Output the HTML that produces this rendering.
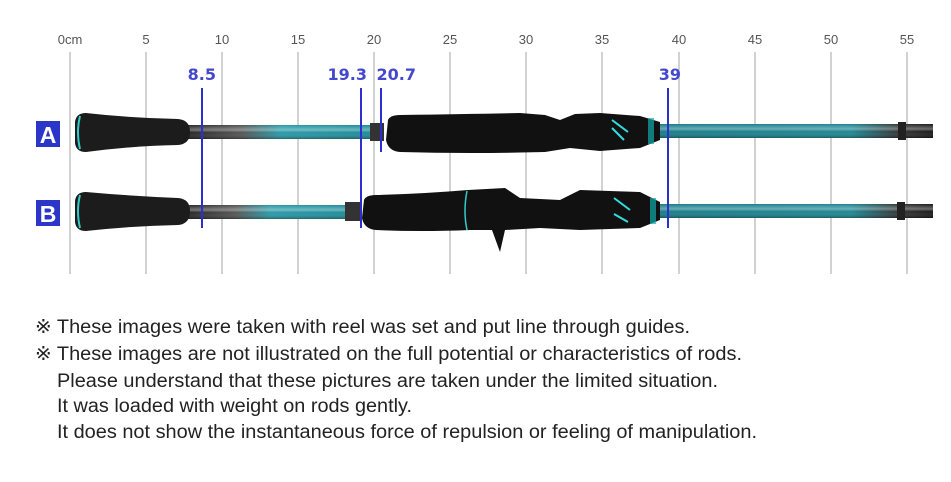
<!DOCTYPE html>
<html><head><meta charset="utf-8"><style>
html,body{margin:0;padding:0;background:#fff;}
svg{display:block}
</style></head><body>
<svg width="951" height="482" viewBox="0 0 951 482" xmlns="http://www.w3.org/2000/svg">
<defs>
<linearGradient id="blA" x1="0" x2="1" y1="0" y2="0">
<stop offset="0" stop-color="#222"/><stop offset="0.3" stop-color="#555"/><stop offset="0.5" stop-color="#2a9aa8"/><stop offset="1" stop-color="#1d8a98"/></linearGradient>
<linearGradient id="blT" x1="0" x2="1" y1="0" y2="0">
<stop offset="0" stop-color="#1a7d8a"/><stop offset="0.7" stop-color="#1f8794"/><stop offset="0.88" stop-color="#333"/><stop offset="1" stop-color="#1a1a1a"/></linearGradient>
<linearGradient id="sh" x1="0" x2="0" y1="0" y2="1">
<stop offset="0" stop-color="#fff" stop-opacity="0"/><stop offset="0.35" stop-color="#fff" stop-opacity="0.35"/><stop offset="0.55" stop-color="#fff" stop-opacity="0"/><stop offset="1" stop-color="#000" stop-opacity="0.3"/></linearGradient>
</defs>
<g font-family="Liberation Sans, sans-serif" font-size="13" fill="#555" text-anchor="middle">
<text x="70" y="44">0cm</text><text x="146" y="44">5</text><text x="222" y="44">10</text><text x="298" y="44">15</text><text x="374" y="44">20</text><text x="450" y="44">25</text><text x="526" y="44">30</text><text x="602" y="44">35</text><text x="679" y="44">40</text><text x="755" y="44">45</text><text x="831" y="44">50</text><text x="907" y="44">55</text>
</g>
<g stroke="#b5b5b5" stroke-width="1.2">
<line x1="70" y1="52" x2="70" y2="274"/><line x1="146" y1="52" x2="146" y2="274"/><line x1="222" y1="52" x2="222" y2="274"/><line x1="298" y1="52" x2="298" y2="274"/><line x1="374" y1="52" x2="374" y2="274"/><line x1="450" y1="52" x2="450" y2="274"/><line x1="526" y1="52" x2="526" y2="274"/><line x1="602" y1="52" x2="602" y2="274"/><line x1="679" y1="52" x2="679" y2="274"/><line x1="755" y1="52" x2="755" y2="274"/><line x1="831" y1="52" x2="831" y2="274"/><line x1="907" y1="52" x2="907" y2="274"/>
</g>
<g>
<rect x="183" y="125" width="195" height="14" fill="url(#blA)"/>
<rect x="183" y="125" width="195" height="14" fill="url(#sh)"/>
<rect x="370" y="123" width="14" height="18" fill="#333"/>
<rect x="660" y="124" width="273" height="14" fill="url(#blT)"/>
<rect x="660" y="124" width="273" height="14" fill="url(#sh)"/>
<rect x="898" y="122" width="8" height="18" fill="#222"/>
<path d="M75 122 Q76 113 86 113 Q130 118 178 119 Q190 120 190 132 Q190 144 178 145 Q130 146 86 152 Q76 152 75 143 Z" fill="#1c1c1c"/>
<path d="M80 116 Q76 132 80 149" stroke="#3cc" stroke-width="2" fill="none"/>
<path d="M388 120 Q390 115 400 115 Q470 114 520 113 L545 115 L560 120 L575 114 L600 113 L640 116 L660 122 L660 140 L640 148 L600 151 L570 148 L545 152 Q470 154 400 152 Q388 151 386 140 Z" fill="#111"/>
<path d="M612 120 L628 132 M612 128 L624 140" stroke="#3dd" stroke-width="2"/>
<rect x="648" y="118" width="6" height="26" fill="#1aa" opacity="0.7"/>
</g>
<g>
<rect x="183" y="205" width="175" height="14" fill="url(#blA)"/>
<rect x="183" y="205" width="175" height="14" fill="url(#sh)"/>
<rect x="345" y="202" width="16" height="19" fill="#333"/>
<rect x="660" y="204" width="273" height="14" fill="url(#blT)"/>
<rect x="660" y="204" width="273" height="14" fill="url(#sh)"/>
<rect x="897" y="202" width="8" height="18" fill="#222"/>
<path d="M75 201 Q76 192 86 192 Q130 196 178 198 Q190 199 190 211 Q190 224 178 225 Q130 226 86 231 Q76 231 75 222 Z" fill="#1c1c1c"/>
<path d="M80 195 Q76 211 80 228" stroke="#3cc" stroke-width="2" fill="none"/>
<path d="M364 200 Q366 195 376 195 Q420 194 468 190 L505 188 L520 198 L560 200 L580 190 L640 192 L660 202 L660 220 L640 228 L580 230 L540 228 L505 230 L500 252 L492 230 L470 230 Q420 232 376 230 Q364 229 362 218 Z" fill="#111"/>
<path d="M467 191 Q463 211 467 230" stroke="#3cc" stroke-width="1.5" fill="none"/>
<path d="M614 198 L630 210 M614 214 L628 222" stroke="#3dd" stroke-width="2"/>
<rect x="650" y="198" width="6" height="26" fill="#1aa" opacity="0.7"/>
</g>
<rect x="36" y="121" width="24" height="26" fill="#2b35c8"/>
<text x="48" y="143" font-family="Liberation Sans, sans-serif" font-weight="bold" font-size="23" fill="#fff" text-anchor="middle">A</text>
<rect x="36" y="200" width="24" height="26" fill="#2b35c8"/>
<text x="48" y="222" font-family="Liberation Sans, sans-serif" font-weight="bold" font-size="23" fill="#fff" text-anchor="middle">B</text>
<g stroke="#2b2fd0" stroke-width="2">
<line x1="202" y1="88" x2="202" y2="228"/><line x1="361" y1="88" x2="361" y2="228"/><line x1="381" y1="88" x2="381" y2="152"/><line x1="668" y1="88" x2="668" y2="228"/>
</g>
<g font-family="DejaVu Sans, sans-serif" font-weight="bold" font-size="16" fill="#4448cc" text-anchor="end">
<text x="216" y="80">8.5</text><text x="367" y="80">19.3</text><text x="416" y="80">20.7</text><text x="681" y="80">39</text>
</g>
<g font-family="Liberation Sans, sans-serif" font-size="19" fill="#222">
<text x="35" y="333" textLength="655" lengthAdjust="spacingAndGlyphs">※ These images were taken with reel was set and put line through guides.</text>
<text x="35" y="360" textLength="707" lengthAdjust="spacingAndGlyphs">※ These images are not illustrated on the full potential or characteristics of rods.</text>
<text x="57" y="387" textLength="661" lengthAdjust="spacingAndGlyphs">Please understand that these pictures are taken under the limited situation.</text>
<text x="57" y="412" textLength="355" lengthAdjust="spacingAndGlyphs">It was loaded with weight on rods gently.</text>
<text x="57" y="438" textLength="700" lengthAdjust="spacingAndGlyphs">It does not show the instantaneous force of repulsion or feeling of manipulation.</text>
</g>
</svg>
</body></html>
